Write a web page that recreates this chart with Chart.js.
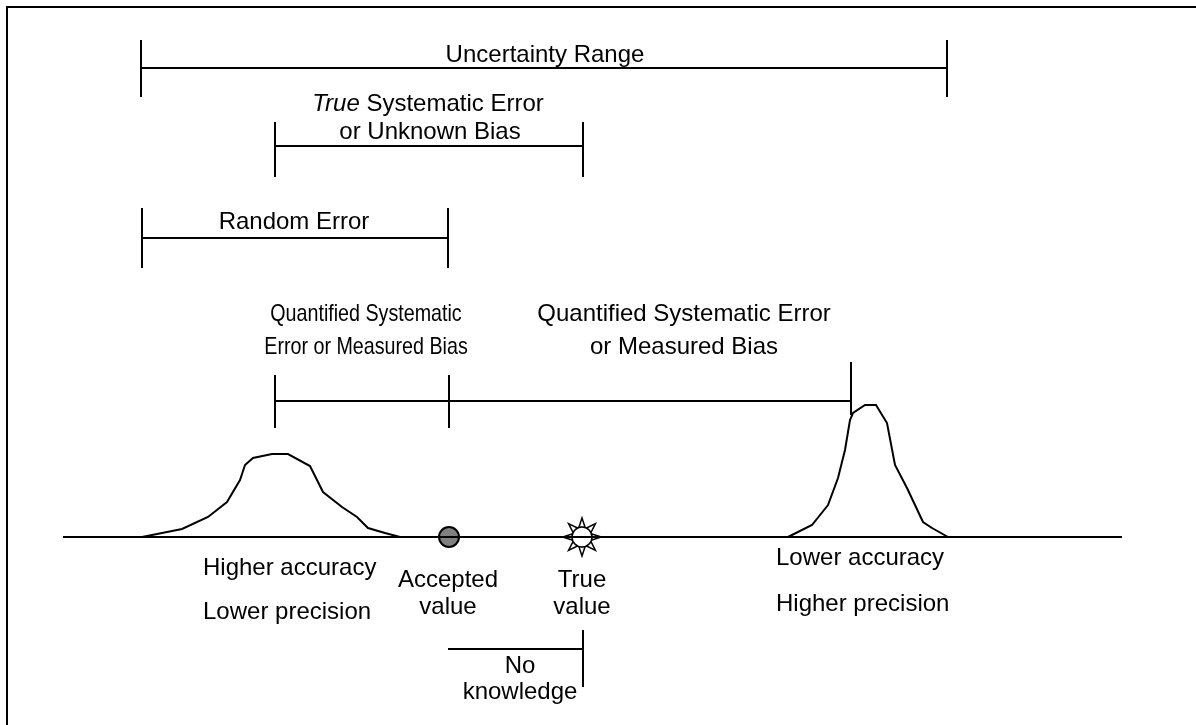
<!DOCTYPE html>
<html>
<head>
<meta charset="utf-8">
<script src="https://cdn.jsdelivr.net/npm/chart.js@4/dist/chart.umd.min.js"></script>
<style>
html,body{margin:0;padding:0;background:#fff;}
#wrap{position:relative;width:1196px;height:725px;}
canvas{display:block;}
</style>
</head>
<body>
<div id="wrap"><canvas id="c" width="1196" height="725"></canvas></div>
<script>
// ---- Data (diagram units: x = measurement axis, y = height above the baseline) ----
const baselineX = [63, 1122];

// Wide, flat distribution (higher accuracy, lower precision)
const curve1X = [142, 182, 208, 227, 240, 245, 253, 272, 288, 310, 317, 323, 342, 357, 368, 385, 400, 408];
const curve1Y = [0, 8, 20, 35, 57, 72, 79, 83, 83, 71, 57, 45, 30, 20, 9, 4, 0, 0];

// Narrow, tall distribution (lower accuracy, higher precision)
const curve2X = [788, 812, 828, 838, 845, 850, 853, 865, 876, 887, 895, 907, 915, 923, 932, 948];
const curve2Y = [0, 12, 32, 59, 87, 117, 124, 132, 132, 114, 72, 49, 32, 15, 9, 0];

// Reference values on the baseline
const acceptedValueX = [449];
const trueValueX = [582];

// Range brackets: ends along x, level of the horizontal bar, and tick extents [x, top, bottom]
const bracketNames  = ["uncertainty", "trueSystematic", "random", "quantified", "noKnowledge"];
const bracketEnds   = [[141, 947], [275, 583], [142, 448], [275, 851], [448, 583]];
const bracketLevels = [469, 391, 299, 136, -112];
const bracketTicks  = [
  [[141, 497, 440], [947, 497, 440]],
  [[275, 415, 360], [583, 415, 360]],
  [[142, 329, 269], [448, 329, 269]],
  [[275, 162, 109], [449, 162, 109], [851, 175, 122]],
  [[583, -93, -150]]
];

// Text labels
const labelTexts = ["Uncertainty Range", "or Unknown Bias", "Random Error",
  "Quantified Systematic Error", "or Measured Bias",
  "Higher accuracy", "Lower precision", "Accepted", "value", "True", "value",
  "No", "knowledge", "Lower accuracy", "Higher precision"];
const labelX = [545, 430, 294, 684, 684, 203, 203, 448, 448, 582, 582, 520, 520, 776, 776];
const labelY = [482, 405, 315, 223, 190, -31, -75, -43, -70, -43, -70, -129, -155, -21, -67];
const labelAlign = ["center","center","center","center","center","left","left","center","center","center","center","center","center","left","left"];

const narrowTexts = ["Quantified Systematic", "Error or Measured Bias"];
const narrowX = [366, 366];
const narrowY = [223, 190];

const mixedTitle = ["True", " Systematic Error"]; // first part italic
const mixedX = 428, mixedY = 433;

// ---- Build datasets ----
const black = "#000";
function pts(xs, ys){ return xs.map((x,i)=>({x:x, y:ys[i]})); }
const datasets = [];
function lineDs(data, w){
  return {type:"scatter", data:data, showLine:true, borderColor:black, borderWidth:w||2,
    pointRadius:0, pointHoverRadius:0, tension:0, fill:false};
}
datasets.push(lineDs(pts(baselineX, [0,0])));
datasets.push(lineDs(pts(curve1X, curve1Y)));
datasets.push(lineDs(pts(curve2X, curve2Y)));
bracketNames.forEach((n,i)=>{
  const [a,b] = bracketEnds[i];
  datasets.push(lineDs([{x:a,y:bracketLevels[i]},{x:b,y:bracketLevels[i]}]));
  bracketTicks[i].forEach(t=>{
    datasets.push(lineDs([{x:t[0],y:t[1]},{x:t[0],y:t[2]}]));
  });
});

// Sun icon for the true value
const sun = document.createElement("canvas");
sun.width = 42; sun.height = 42;
(function(){
  const g = sun.getContext("2d");
  const cx = 21, cy = 21;
  g.lineWidth = 1.5; g.strokeStyle = "#000"; g.fillStyle = "#fff";
  for (let k=0;k<8;k++){
    const a = k*Math.PI/4 - Math.PI/2;
    const da = 0.32;
    g.beginPath();
    g.moveTo(cx + 19*Math.cos(a), cy + 19*Math.sin(a));
    g.lineTo(cx + 10*Math.cos(a+da), cy + 10*Math.sin(a+da));
    g.lineTo(cx + 10*Math.cos(a-da), cy + 10*Math.sin(a-da));
    g.closePath(); g.fill(); g.stroke();
  }
  g.beginPath(); g.arc(cx, cy, 10, 0, Math.PI*2); g.fill(); g.stroke();
})();

datasets.push({type:"scatter", data: acceptedValueX.map(x=>({x:x,y:0})), pointRadius:10,
  pointBackgroundColor:"#808080", pointBorderColor:"#000", pointBorderWidth:2, showLine:false});
datasets.push({type:"scatter", data: trueValueX.map(x=>({x:x,y:0})), pointStyle: sun,
  pointRadius:19, showLine:false});

const FONT = "'Liberation Sans', Arial, sans-serif";
const SIZE = 24;

const textPlugin = {
  id: "diagramText",
  afterDatasetsDraw(chart){
    const ctx = chart.ctx, xs = chart.scales.x, ys = chart.scales.y;
    ctx.save();
    ctx.fillStyle = "#000";
    ctx.textBaseline = "middle";
    ctx.font = SIZE + "px " + FONT;
    labelTexts.forEach((t,i)=>{
      ctx.textAlign = labelAlign[i];
      ctx.fillText(t, xs.getPixelForValue(labelX[i]), ys.getPixelForValue(labelY[i]));
    });
    // narrow labels
    narrowTexts.forEach((t,i)=>{
      ctx.save();
      ctx.translate(xs.getPixelForValue(narrowX[i]), ys.getPixelForValue(narrowY[i]));
      ctx.scale(0.82, 1);
      ctx.textAlign = "center";
      ctx.font = SIZE + "px " + FONT;
      ctx.fillText(t, 0, 0);
      ctx.restore();
    });
    // mixed italic title
    ctx.textAlign = "left";
    const itFont = "italic " + SIZE + "px " + FONT, rgFont = SIZE + "px " + FONT;
    ctx.font = itFont; const w1 = ctx.measureText(mixedTitle[0]).width;
    ctx.font = rgFont; const w2 = ctx.measureText(mixedTitle[1]).width;
    const x0 = xs.getPixelForValue(mixedX) - (w1+w2)/2, y0 = ys.getPixelForValue(mixedY);
    ctx.font = itFont; ctx.fillText(mixedTitle[0], x0, y0);
    ctx.font = rgFont; ctx.fillText(mixedTitle[1], x0 + w1, y0);
    // frame
    ctx.strokeStyle = "#000"; ctx.lineWidth = 2;
    ctx.beginPath();
    ctx.moveTo(7, chart.height); ctx.lineTo(7, 7); ctx.lineTo(chart.width, 7);
    ctx.stroke();
    ctx.restore();
  }
};

new Chart(document.getElementById("c"), {
  type: "scatter",
  data: { datasets: datasets },
  options: {
    responsive: false,
    devicePixelRatio: 1,
    animation: false,
    layout: { padding: 0, autoPadding: false },
    plugins: { legend: {display:false}, tooltip: {enabled:false} },
    events: [],
    scales: {
      x: { type:"linear", min:0, max:1196, display:false },
      y: { type:"linear", min:-188, max:537, display:false }
    }
  },
  plugins: [textPlugin]
});
</script>
</body>
</html>
